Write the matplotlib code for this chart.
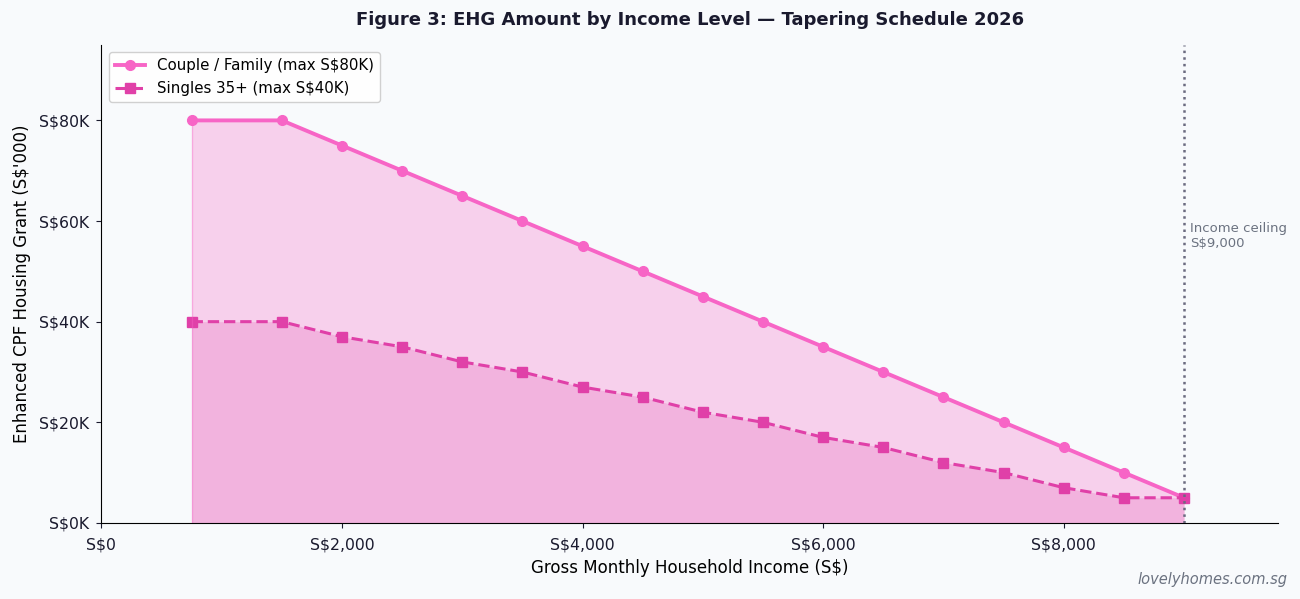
import matplotlib.pyplot as plt
from matplotlib.ticker import FuncFormatter

# income points (S$/month) and grant amounts (S$'000)
income = [750, 1500, 2000, 2500, 3000, 3500, 4000, 4500, 5000, 5500,
          6000, 6500, 7000, 7500, 8000, 8500, 9000]
couple = [80, 80, 75, 70, 65, 60, 55, 50, 45, 40, 35, 30, 25, 20, 15, 10, 5]
singles = [40, 40, 37, 35, 32, 30, 27, 25, 22, 20, 17, 15, 12, 10, 7, 5, 5]
ceiling = 9000

bg = "#f8fafc"
c_couple = "#f765c6"
c_single = "#e040a8"

fig, ax = plt.subplots(figsize=(13, 5.99), dpi=100)
fig.patch.set_facecolor(bg)
ax.set_facecolor(bg)

ax.fill_between(income, couple, color=c_couple, alpha=0.28, linewidth=0)
ax.fill_between(income, singles, color=c_single, alpha=0.2, linewidth=0)
ax.plot(income, couple, color=c_couple, lw=2.8, marker="o", ms=7,
        label="Couple / Family (max S$80K)")
ax.plot(income, singles, color=c_single, lw=2.2, ls="--", marker="s", ms=7,
        label="Singles 35+ (max S$40K)")
ax.plot([income[0], income[0]], [0, couple[0]], color=c_couple, lw=1, alpha=0.4)

ax.axvline(ceiling, color="#6b6b80", ls=":", lw=1.8)
ax.text(ceiling + 50, 57, "Income ceiling\nS$9,000", fontsize=9.5,
        color="#6b7280", va="center", ha="left")

ax.set_xlim(0, 9780)
ax.set_ylim(0, 95)
ax.set_xticks([0, 2000, 4000, 6000, 8000])
ax.xaxis.set_major_formatter(FuncFormatter(lambda v, p: "S${:,.0f}".format(v)))
ax.set_yticks([0, 20, 40, 60, 80])
ax.yaxis.set_major_formatter(FuncFormatter(lambda v, p: "S${:.0f}K".format(v)))
ax.tick_params(labelsize=11.3, colors="#1a1a2e")
ax.tick_params(axis="x", pad=7)
ax.tick_params(axis="y", pad=5)
ax.spines["top"].set_visible(False)
ax.spines["right"].set_visible(False)

ax.set_xlabel("Gross Monthly Household Income (S$)", fontsize=12, labelpad=5)
ax.set_ylabel("Enhanced CPF Housing Grant (S$'000)", fontsize=12, labelpad=6)
ax.set_title("Figure 3: EHG Amount by Income Level \u2014 Tapering Schedule 2026",
             fontsize=13, fontweight="bold", color="#1a1a2e", pad=14)
ax.legend(loc="upper left", fontsize=10.8, framealpha=0.9)

fig.text(0.99, 0.02, "lovelyhomes.com.sg", ha="right", va="bottom",
         fontsize=10.5, style="italic", color="#6b7280")

plt.subplots_adjust(left=0.078, right=0.983, top=0.925, bottom=0.127)
plt.savefig("out.png", facecolor=bg)
